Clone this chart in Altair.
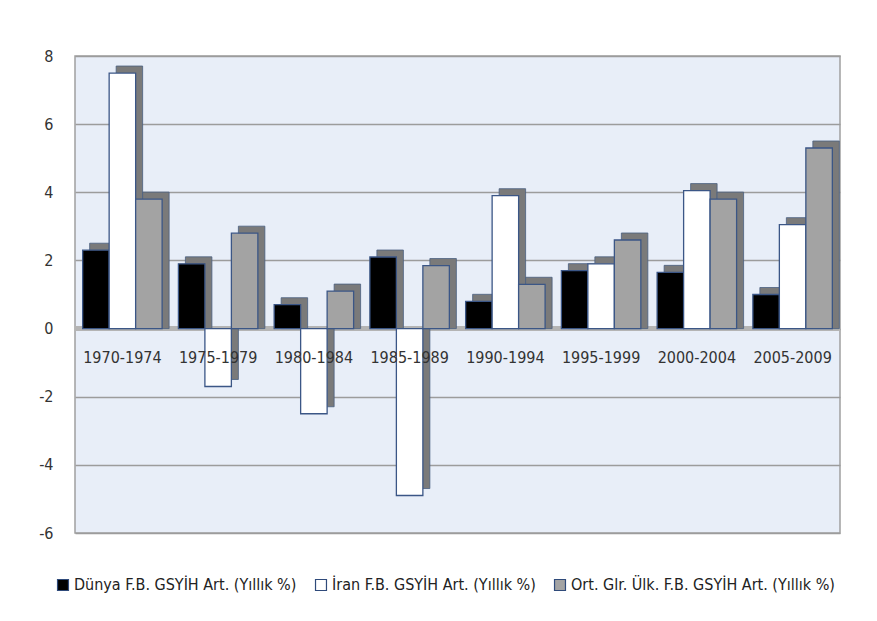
import altair as alt
import pandas as pd

periods = ["1970-1974", "1975-1979", "1980-1984", "1985-1989",
           "1990-1994", "1995-1999", "2000-2004", "2005-2009"]
series = ["Dünya F.B. GSYİH Art. (Yıllık %)",
          "İran F.B. GSYİH Art. (Yıllık %)",
          "Ort. Glr. Ülk. F.B. GSYİH Art. (Yıllık %)"]
dunya = [2.3, 1.9, 0.7, 2.1, 0.8, 1.7, 1.65, 1.0]
iran = [7.5, -1.7, -2.5, -4.9, 3.9, 1.9, 4.05, 3.05]
ort = [3.8, 2.8, 1.1, 1.85, 1.3, 2.6, 3.8, 5.3]
y_ticks = [-6, -4, -2, 0, 2, 4, 6, 8]

rows = []
for s, vals in zip(series, [dunya, iran, ort]):
    for p, v in zip(periods, vals):
        rows.append({"period": p, "series": s, "value": v})
df = pd.DataFrame(rows)
labels_df = pd.DataFrame({"period": periods})

FONT = "Liberation Sans Narrow, DejaVu Sans Condensed, sans-serif"

W, H = 765, 477
P_IN, P_OUT = 0.17, 0.08
step = W / (len(periods) - P_IN + 2 * P_OUT)
band = step * (1 - P_IN)
DEPTH = 7

xenc = alt.X("period:N", sort=periods, axis=None,
             scale=alt.Scale(paddingInner=P_IN, paddingOuter=P_OUT))
yenc = alt.Y("value:Q",
             scale=alt.Scale(domain=[-6, 8], nice=False, zero=False),
             axis=alt.Axis(values=y_ticks, grid=True, gridColor="#9c9c9c",
                           gridWidth=1.6, ticks=False, domain=False,
                           labelPadding=22, labelFontSize=16,
                           labelExpr="'' + datum.value",
                           labelColor="#333333", labelFont=FONT, title=None))

base = alt.Chart(df)

zero_rule = alt.Chart(labels_df).mark_rule(color="#b4b4b4", strokeWidth=5).encode(
    y=alt.datum(0)
)

shadow = base.mark_bar(color="#7a7a7a", yOffset=-DEPTH,
                       stroke="#4a5f80", strokeWidth=0.8).encode(
    x=xenc,
    xOffset=alt.XOffset("series:N", sort=series,
                        scale=alt.Scale(range=[DEPTH, band + DEPTH])),
    y=yenc,
    y2=alt.datum(0),
)

bars = base.mark_bar(stroke="#3b5686", strokeWidth=1.3).encode(
    x=xenc,
    xOffset=alt.XOffset("series:N", sort=series,
                        scale=alt.Scale(range=[0, band])),
    y=yenc,
    y2=alt.datum(0),
    color=alt.Color("series:N", sort=series,
                    scale=alt.Scale(domain=series,
                                    range=["#000000", "#ffffff", "#a3a3a3"]),
                    legend=alt.Legend(orient="none", legendX=-20, legendY=521,
                                      direction="horizontal", title=None,
                                      symbolType="square", symbolSize=120,
                                      symbolStrokeColor="#2f4a7a",
                                      symbolStrokeWidth=1.2,
                                      labelFontSize=16, labelFont=FONT,
                                      labelColor="#222222", labelLimit=0,
                                      columnPadding=16, symbolOffset=0,
                                      labelOffset=3)),
)

labels = alt.Chart(labels_df).mark_text(dy=29, fontSize=16, color="#333333",
                                        font=FONT).encode(
    x=alt.X("period:N", sort=periods, axis=None),
    y=alt.datum(0),
    text="period:N",
)

chart = alt.layer(zero_rule, shadow, bars, labels).resolve_scale(
    xOffset="independent"
).properties(
    width=W, height=H,
    autosize=alt.AutoSizeParams(type="none"),
    padding={"left": 67, "top": 48, "right": 29, "bottom": 80},
    background="#ffffff",
).configure_view(fill="#e8eef8", stroke="#a0a0a0", strokeWidth=1.5)

chart.save("out.html", embed_options={"renderer": "svg", "actions": False})
